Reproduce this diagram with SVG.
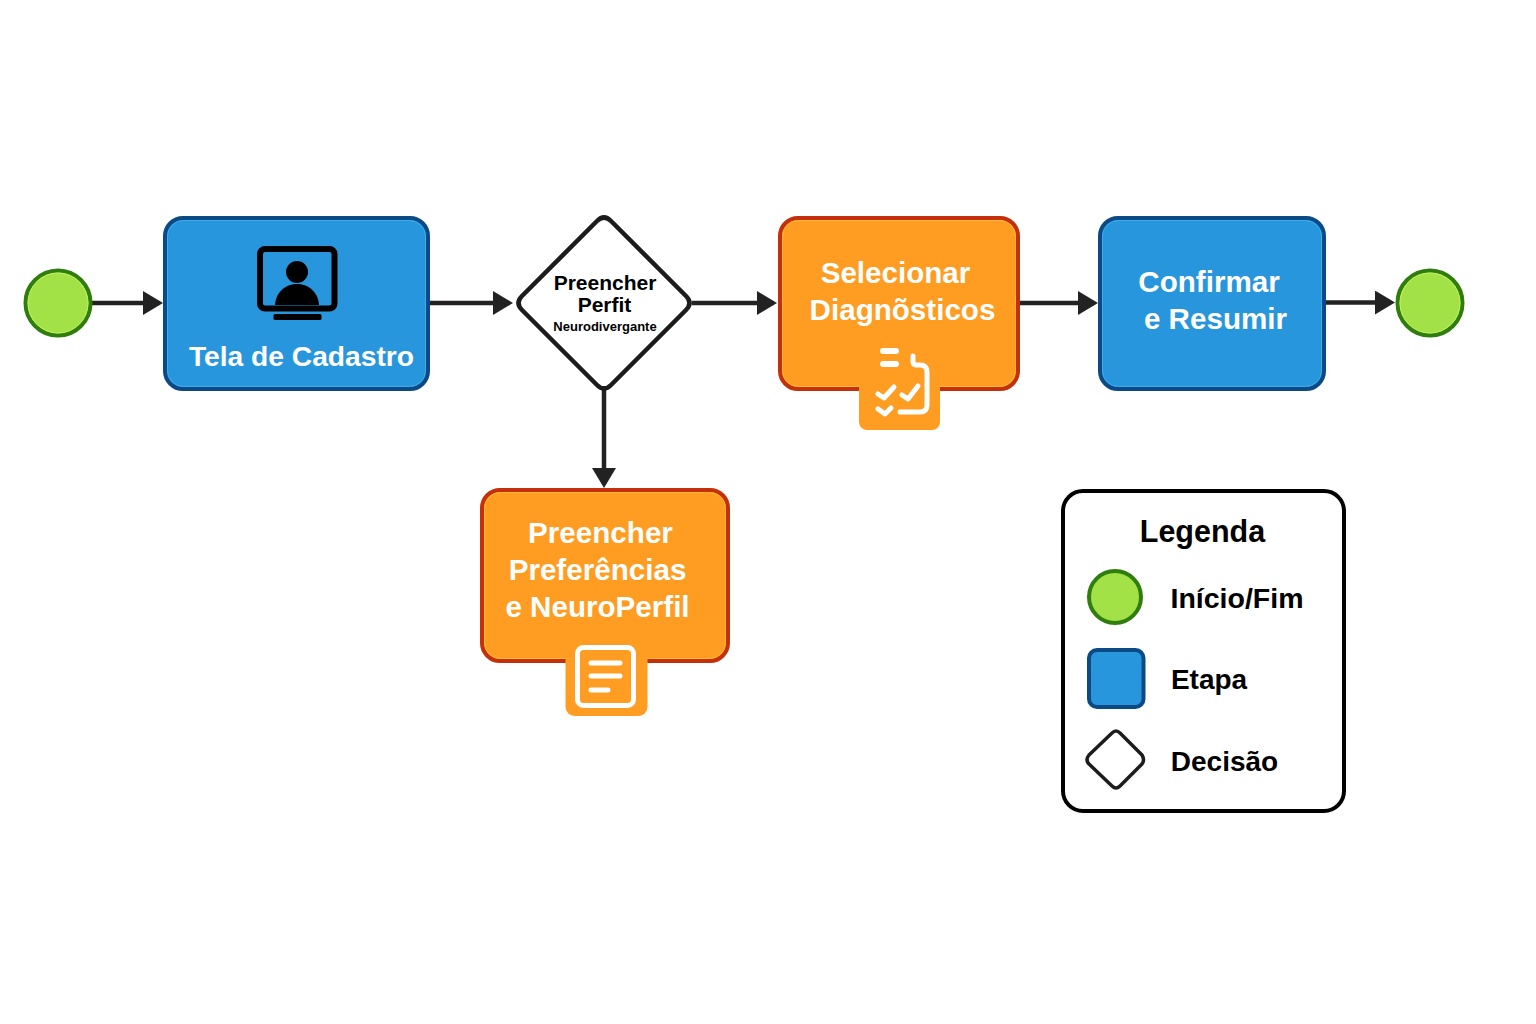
<svg xmlns="http://www.w3.org/2000/svg" width="1536" height="1024" viewBox="0 0 1536 1024">
<style>
text{font-family:"Liberation Sans",Arial,sans-serif;font-weight:700;text-anchor:middle}
.w{fill:#fff;font-size:29.600px}
.k{fill:#000}
.blue{fill:#2896dc;stroke:#0c4a86;stroke-width:4}
.orange{fill:#ff9d22;stroke:#c4300a;stroke-width:4}
.tag{fill:#ff9d22}
.green{fill:#a3e246;stroke:#2f7d0c;stroke-width:4}
.rb,.ro,.rg{fill:none;stroke-width:1}
.rb{stroke:#3cabef}
.ro{stroke:#ffb832}
.rg{stroke:#bdf060}
.dia{fill:#fff;stroke:#1c1c1c;stroke-linejoin:round}
.ln{stroke:#222;stroke-width:4.500;fill:none}
.ic{fill:none;stroke:#fff;stroke-linecap:round;stroke-linejoin:round}
</style>
<defs>
<marker id="a" markerUnits="userSpaceOnUse" markerWidth="20" markerHeight="24" refX="16" refY="12" orient="auto"><path d="M0 0L20 12L0 24Z" fill="#222"/></marker>
</defs>
<g id="connectors">
<path class="ln" marker-end="url(#a)" d="M90 303H159"/>
<path class="ln" marker-end="url(#a)" d="M429 303H509"/>
<path class="ln" marker-end="url(#a)" d="M692 303H773"/>
<path class="ln" marker-end="url(#a)" d="M1018 303H1094"/>
<path class="ln" marker-end="url(#a)" d="M1324 302.500H1391"/>
<path class="ln" marker-end="url(#a)" d="M604 390V484"/>
</g>
<g id="start"><circle class="green" cx="58" cy="303" r="32.500"/><circle class="rg" cx="58" cy="303" r="30"/></g>
<g id="tela-cadastro">
<rect class="blue" x="165" y="218" width="263" height="171" rx="18"/>
<rect class="rb" x="167.500" y="220.500" width="258" height="166" rx="16"/>
<rect x="260" y="249" width="74.500" height="59.500" rx="5" fill="none" stroke="#000" stroke-width="6"/>
<circle cx="297" cy="272" r="11" fill="#000"/>
<path d="M275 305C277 277 317 277 319 305Z" fill="#000"/>
<rect x="273.500" y="314" width="48" height="6" rx="1.500" fill="#000"/>
<text class="w" x="301.500" y="365.500" style="font-size:28.200px">Tela de Cadastro</text>
</g>
<g id="decisao">
<path class="dia" stroke-width="4.500" d="M597 221Q604 214 611 221L686 296Q693 303 686 310L611 385Q604 392 597 385L522 310Q515 303 522 296Z"/>
<text class="k" x="605" y="290" font-size="21">Preencher</text>
<text class="k" x="604.500" y="312" font-size="21">Perfit</text>
<text class="k" x="605" y="331" font-size="13">Neurodivergante</text>
</g>
<g id="selecionar">
<rect class="orange" x="780" y="218" width="238" height="171" rx="18"/>
<rect class="ro" x="782.500" y="220.500" width="233" height="166" rx="16"/>
<rect class="tag" x="859" y="380" width="81" height="50" rx="8"/>
<text class="w" x="895.500" y="283">Selecionar</text>
<text class="w" x="902.500" y="320">Diagnõsticos</text>
<g class="ic">
<path stroke-width="6" d="M883 351H896M883 364H896"/>
<path stroke-width="5" d="M913 356V362Q913 365 917 365H920Q927 365 927 372V405Q927 412 920 412H900"/>
<path stroke-width="5" d="M878 394L884 398L894 387M902 395L908 399L918 386M878 409L885 414L891 408"/>
</g>
</g>
<g id="confirmar">
<rect class="blue" x="1100" y="218" width="224" height="171" rx="18"/>
<rect class="rb" x="1102.500" y="220.500" width="219" height="166" rx="16"/>
<text class="w" x="1209" y="292">Confirmar</text>
<text class="w" x="1215.500" y="329">e Resumir</text>
</g>
<g id="end"><circle class="green" cx="1430" cy="303" r="32.500"/><circle class="rg" cx="1430" cy="303" r="30"/></g>
<g id="preferencias">
<rect class="orange" x="482" y="490" width="246" height="171" rx="18"/>
<rect class="ro" x="484.500" y="492.500" width="241" height="166" rx="16"/>
<rect class="tag" x="565.500" y="650" width="82" height="66" rx="9"/>
<text class="w" x="600.500" y="543">Preencher</text>
<text class="w" x="597.500" y="580">Preferências</text>
<text class="w" x="597.500" y="617">e NeuroPerfil</text>
<rect x="577.500" y="647.500" width="56" height="58" rx="6" fill="none" stroke="#fff" stroke-width="5"/>
<path class="ic" stroke-width="5" d="M591 663H620M591 676H620M591 690H608"/>
</g>
<g id="legenda">
<rect x="1063" y="491" width="281" height="320" rx="20" fill="#fff" stroke="#000" stroke-width="4"/>
<text class="k" x="1202.500" y="542" font-size="30.500">Legenda</text>
<circle class="green" cx="1115" cy="597" r="26"/>
<text class="k" x="1237" y="607.500" font-size="28.500">Início/Fim</text>
<rect class="blue" x="1089" y="650" width="54.500" height="57" rx="8"/>
<text class="k" x="1209" y="689" font-size="28">Etapa</text>
<path class="dia" stroke-width="3.500" d="M1112 733Q1116 729 1120 733L1142 755Q1145 760 1142 764L1120 786Q1116 790 1112 786L1089 764Q1085 760 1089 755Z"/>
<text class="k" x="1224.500" y="770.500" font-size="28">Decisão</text>
</g>
</svg>
